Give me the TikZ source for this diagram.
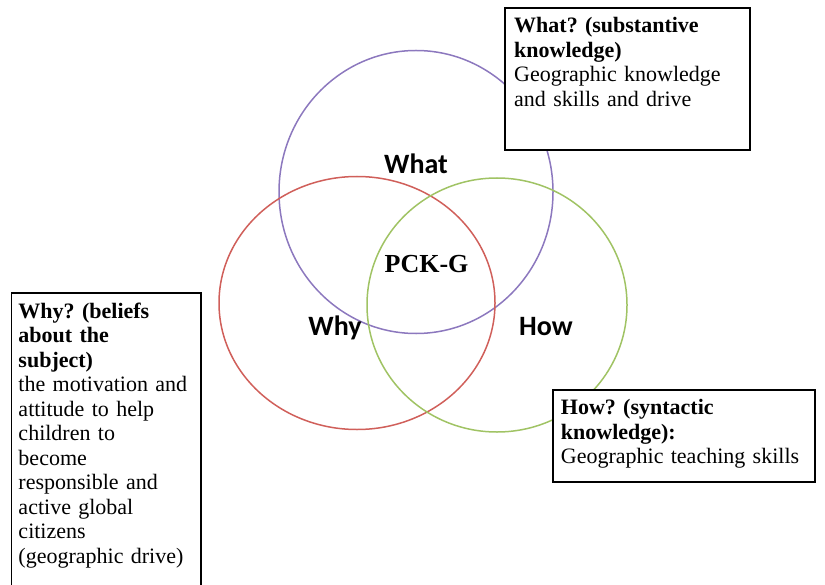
\documentclass[tikz,border=0pt]{standalone}
\usepackage{fontspec}
\setmainfont{Liberation Serif}
\newfontfamily\labelfont{Carlito}
\usetikzlibrary{positioning, shapes.geometric}
\frenchspacing

\definecolor{vennpurple}{RGB}{140,120,190}
\definecolor{vennred}{RGB}{208,95,90}
\definecolor{venngreen}{RGB}{160,195,100}

\begin{document}
\begin{tikzpicture}[
    x=1bp, y=-1bp,
    vennset/.style={ellipse, draw, line width=1.5bp, inner sep=0pt},
    setlabel/.style={anchor=base, inner sep=0pt, font=\labelfont\bfseries\fontsize{28bp}{30bp}\selectfont},
    corelabel/.style={anchor=base, inner sep=0pt, font=\bfseries\fontsize{26bp}{28bp}\selectfont},
    infobox/.style={rectangle, draw=black, fill=white, line width=1.6bp, anchor=north west, inner sep=0pt},
    boxtext/.style={anchor=base west, inner sep=0pt, text width=260bp, align=left, font=\frenchspacing\fontsize{22bp}{24.5bp}\selectfont}
]
\useasboundingbox (0,0) rectangle (825,585);
\clip (0,0) rectangle (825,585);

% sets
\node[vennset, draw=vennpurple, minimum width=274bp, minimum height=283bp] (whatset) at (416,192) {};
\node[vennset, draw=vennred, minimum width=276bp, minimum height=253bp] (whyset) at (357,303) {};
\node[vennset, draw=venngreen, minimum width=260bp, minimum height=254bp] (howset) at (497,305) {};

% set labels
\node[setlabel] (whatlabel) at (416,174) {What};
\node[setlabel] (whylabel) at (335,335) {Why};
\node[setlabel] (howlabel) at (546,335) {How};
\node[corelabel] (core) at (426.5,272) {PCK-G};

% what box
\node[infobox, minimum width=245bp, minimum height=142bp] (whatbox) at (504,7) {};
\node[boxtext] (whattext) at ([xshift=10bp, yshift=-26bp]whatbox.north west) {\textbf{What? (substantive}\\
\textbf{knowledge)}\\
Geographic knowledge\\
and skills and drive};

% why box
\node[infobox, minimum width=189.5bp, minimum height=320bp] (whybox) at (10.7,292) {};
\node[boxtext] (whytext) at ([xshift=7.6bp, yshift=-26bp]whybox.north west) {\textbf{Why? (beliefs}\\
\textbf{about the}\\
\textbf{subject)}\\
the motivation and\\
attitude to help\\
children to\\
become\\
responsible and\\
active global\\
citizens\\
(geographic drive)};

% how box
\node[infobox, minimum width=262bp, minimum height=92bp] (howbox) at (552,389) {};
\node[boxtext] (howtext) at ([xshift=8.7bp, yshift=-25.5bp]howbox.north west) {\textbf{How? (syntactic}\\
\textbf{knowledge):}\\
Geographic teaching skills};
\end{tikzpicture}
\end{document}
